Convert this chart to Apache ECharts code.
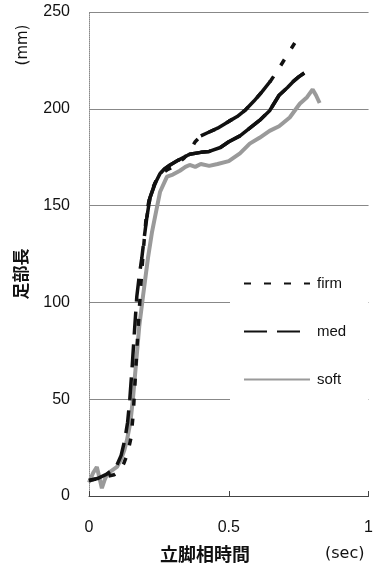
<!DOCTYPE html>
<html>
<head>
<meta charset="utf-8">
<script src="https://cdn.jsdelivr.net/npm/echarts@6/dist/echarts.min.js"></script>
<style>html,body{margin:0;padding:0;background:#fff;}#c{width:376px;height:568px;}</style>
</head>
<body>
<div id="c"></div>
<script>
var xTicks = ['0', '0.5', '1'];
var yTicks = ['0', '50', '100', '150', '200', '250'];
var seriesNames = ['firm', 'med', 'soft'];

var firmT = [0, 0.03, 0.06, 0.09, 0.11, 0.125, 0.138, 0.15, 0.158, 0.166, 0.175, 0.185, 0.195, 0.205, 0.215, 0.225, 0.24, 0.26, 0.28, 0.3, 0.32, 0.34, 0.36, 0.38, 0.4, 0.43, 0.46, 0.5, 0.53, 0.56, 0.59, 0.62, 0.65, 0.68, 0.71, 0.736];
var firmLen = [8, 9, 10, 11, 13, 17, 22, 30, 42, 62, 85, 108, 128, 145, 153, 158, 163, 166.5, 168.5, 170, 172, 174.5, 178, 183, 186, 188, 190, 193.5, 196, 199.5, 204, 209, 214.5, 221, 228, 234];

var medT = [0, 0.03, 0.06, 0.08, 0.1, 0.115, 0.128, 0.138, 0.146, 0.155, 0.163, 0.171, 0.18, 0.189, 0.198, 0.207, 0.218, 0.235, 0.254, 0.27, 0.29, 0.32, 0.36, 0.4, 0.43, 0.47, 0.5, 0.54, 0.575, 0.61, 0.646, 0.68, 0.71, 0.73, 0.75, 0.77];
var medLen = [8, 9, 11, 13, 16, 21, 29, 38, 50, 68, 86, 103, 114, 123, 134, 144, 154, 161, 166.5, 169, 171, 173.5, 176.5, 177.5, 178, 180, 183, 186, 190, 194, 199, 207, 211, 214, 216.5, 218.5];

var softT = [0, 0.015, 0.028, 0.038, 0.046, 0.055, 0.064, 0.08, 0.1, 0.115, 0.127, 0.136, 0.148, 0.157, 0.168, 0.18, 0.193, 0.211, 0.225, 0.236, 0.254, 0.279, 0.3, 0.325, 0.345, 0.36, 0.38, 0.4, 0.43, 0.46, 0.5, 0.54, 0.575, 0.61, 0.646, 0.68, 0.718, 0.754, 0.78, 0.8, 0.812, 0.825];
var softLen = [7, 12, 15, 9, 4, 8, 11, 13, 15, 19, 24, 29, 38, 50, 68, 88, 103, 123, 136, 144, 157, 165, 166, 168, 170, 171, 170, 171.5, 170.5, 171.5, 173, 177, 182, 185, 188.6, 191, 195.5, 202.6, 206, 210, 207, 203];

function zip(a, b) { return a.map(function (v, i) { return [v, b[i]]; }); }
function part(a, b, lo, hi) {
  return zip(a, b).filter(function (p) { return p[0] >= lo && p[0] <= hi; });
}

var numFont = 'Liberation Sans, Arial, sans-serif';
var jpFont = 'Noto Sans CJK JP, sans-serif';

var chart = echarts.init(document.getElementById('c'), null, { renderer: 'canvas' });
chart.setOption({
  animation: false,
  backgroundColor: '#fff',
  grid: { left: 89, right: 7, top: 12, bottom: 72, containLabel: false },
  xAxis: {
    type: 'value', min: 0, max: 1, interval: 0.5,
    axisLine: { show: true, onZero: false, lineStyle: { color: '#444', width: 1 } },
    axisTick: { show: true, inside: true, length: 5, lineStyle: { color: '#444' } },
    splitLine: { show: false },
    axisLabel: {
      margin: 24, fontSize: 16, color: '#111', fontFamily: numFont,
      formatter: function (v) { var i = Math.round(v / 0.5); return xTicks[i]; }
    }
  },
  yAxis: {
    type: 'value', min: 0, max: 250, interval: 50,
    axisLine: { show: true, lineStyle: { color: '#888', width: 1, type: 'dotted' } },
    axisTick: { show: false },
    splitLine: { show: true, lineStyle: { color: '#888', width: 1 } },
    axisLabel: {
      margin: 19, fontSize: 16, color: '#111', fontFamily: numFont,
      formatter: function (v) { return yTicks[Math.round(v / 50)]; }
    }
  },
  legend: {
    data: seriesNames,
    orient: 'vertical',
    left: 230, top: 215,
    itemWidth: 66, itemHeight: 14, itemGap: 33,
    padding: [61, 22, 20, 13],
    backgroundColor: '#fff',
    itemStyle: { opacity: 0 },
    textStyle: { fontSize: 15, color: '#111', fontFamily: numFont, padding: [0, 0, 0, 2] }
  },
  series: [
    {
      name: 'firm', type: 'line', data: zip(firmT, firmLen), symbol: 'none', z: 4,
      itemStyle: { color: '#111' },
      lineStyle: { color: '#111', width: 3.5, type: [7, 13] }
    },
    {
      name: 'firm', type: 'line', data: part(firmT, firmLen, 0.39, 0.66), symbol: 'none', z: 4,
      itemStyle: { color: '#111' },
      lineStyle: { color: '#111', width: 3.5 }
    },
    {
      name: 'med', type: 'line', data: zip(medT, medLen), symbol: 'none', z: 3,
      itemStyle: { color: '#111' },
      lineStyle: { color: '#111', width: 3.5, type: [23, 10] }
    },
    {
      name: 'med', type: 'line', data: part(medT, medLen, 0.2, 0.78), symbol: 'none', z: 3,
      itemStyle: { color: '#111' },
      lineStyle: { color: '#111', width: 3.5 }
    },
    {
      name: 'soft', type: 'line', data: zip(softT, softLen), symbol: 'none', z: 2,
      itemStyle: { color: '#9a9a9a' },
      lineStyle: { color: '#9a9a9a', width: 4 }
    }
  ],
  graphic: [
    { type: 'text', left: 160, top: 545, style: { text: '立脚相時間', font: 'bold 18px ' + jpFont, fill: '#111' } },
    { type: 'text', left: 325, top: 546, style: { text: '(sec)', font: '16px DejaVu Sans, sans-serif', fill: '#111' } },
    { type: 'text', x: 21, y: 274, rotation: Math.PI / 2, style: { text: '足部長', font: 'bold 17px ' + jpFont, fill: '#111', align: 'center', verticalAlign: 'middle' } },
    { type: 'text', x: 23, y: 45, rotation: Math.PI / 2, style: { text: '(mm)', font: '15px DejaVu Sans, sans-serif', fill: '#111', align: 'center', verticalAlign: 'middle' } }
  ]
});
</script>
</body>
</html>
